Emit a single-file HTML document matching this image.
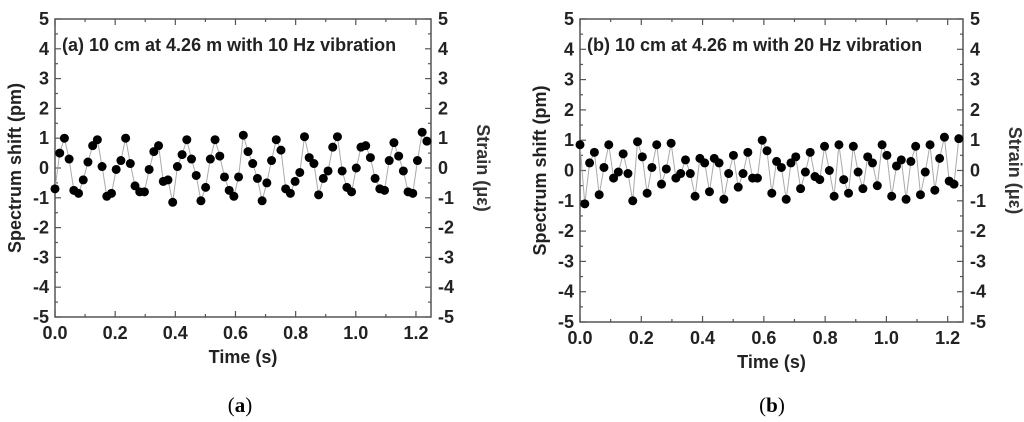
<!DOCTYPE html>
<html><head><meta charset="utf-8"><style>
body{margin:0;background:#fff;}
svg{display:block;font-family:"Liberation Sans",Arial,sans-serif;}
</style></head><body>
<svg id="c" width="1024" height="422" viewBox="0 0 1024 422">
<text x="240" y="412" font-family="Liberation Serif,serif" font-size="21" text-anchor="middle">(<tspan font-weight="bold">a</tspan>)</text>
<text x="772" y="412" font-family="Liberation Serif,serif" font-size="21" text-anchor="middle">(<tspan font-weight="bold">b</tspan>)</text>
</svg>
<script>
const sampleInterval = 0.01565;
const xTicks = [0.0, 0.2, 0.4, 0.6, 0.8, 1.0, 1.2];
const xTickLabels = ["0.0", "0.2", "0.4", "0.6", "0.8", "1.0", "1.2"];
const yTicks = [5, 4, 3, 2, 1, 0, -1, -2, -3, -4, -5];
const seriesA = [-0.7,0.5,1.0,0.3,-0.75,-0.85,-0.4,0.2,0.75,0.95,0.05,-0.95,-0.85,-0.05,0.25,1.0,0.15,-0.6,-0.8,-0.8,-0.05,0.55,0.75,-0.45,-0.4,-1.15,0.05,0.45,0.95,0.3,-0.25,-1.1,-0.65,0.3,0.95,0.4,-0.3,-0.75,-0.95,-0.3,1.1,0.55,0.15,-0.35,-1.1,-0.5,0.25,0.95,0.6,-0.7,-0.85,-0.45,-0.15,1.05,0.35,0.15,-0.9,-0.35,-0.1,0.7,1.05,-0.1,-0.65,-0.8,0.0,0.7,0.75,0.35,-0.35,-0.7,-0.75,0.25,0.85,0.4,-0.1,-0.8,-0.85,0.25,1.2,0.9];
const seriesB = [0.85,-1.1,0.25,0.6,-0.8,0.1,0.85,-0.25,-0.05,0.55,-0.1,-1.0,0.95,0.45,-0.75,0.1,0.85,-0.45,0.05,0.9,-0.25,-0.1,0.35,-0.1,-0.85,0.4,0.25,-0.7,0.4,0.25,-0.95,-0.1,0.5,-0.55,-0.1,0.6,-0.25,-0.25,1.0,0.65,-0.75,0.3,0.1,-0.95,0.25,0.45,-0.6,-0.05,0.6,-0.2,-0.3,0.8,0.0,-0.85,0.85,-0.3,-0.75,0.8,-0.05,-0.6,0.45,0.25,-0.5,0.85,0.5,-0.85,0.15,0.35,-0.95,0.3,0.8,-0.8,-0.05,0.85,-0.65,0.4,1.1,-0.35,-0.45,1.05];
const titles = ["(a) 10 cm at 4.26 m with 10 Hz vibration","(b) 10 cm at 4.26 m with 20 Hz vibration"];

const NS = "http://www.w3.org/2000/svg";
const svg = document.getElementById('c');
function mk(tag, attrs, parent, text){
  const e = document.createElementNS(NS, tag);
  for (const k in attrs) e.setAttribute(k, attrs[k]);
  if (text !== undefined) e.textContent = text;
  (parent || svg).appendChild(e);
  return e;
}
function drawPanel(key, L, R, T, B, data, title){
  const g = mk('g', {});
  
  
  const xs = t => L + (t / 1.25) * (R - L);
  const ys = v => T + (5 - v) / 10 * (B - T);
  for (let i = 0; i <= 25; i += 2) {
    const x = xs(i * 0.05), len = (i % 4 === 0) ? 6 : 3;
    mk('line', {x1:x, x2:x, y1:B, y2:B-len, stroke:'#555', 'stroke-width':1.2}, g);
    mk('line', {x1:x, x2:x, y1:T, y2:T+len, stroke:'#555', 'stroke-width':1.2}, g);
  }
  for (let i = 0; i <= 20; i++) {
    const y = ys(-5 + i * 0.5), len = i % 2 === 0 ? 6 : 3;
    mk('line', {x1:L, x2:L+len, y1:y, y2:y, stroke:'#555', 'stroke-width':1.2}, g);
    mk('line', {x1:R, x2:R-len, y1:y, y2:y, stroke:'#555', 'stroke-width':1.2}, g);
  }
  const frame = mk('rect', {x:L, y:T, width:R-L, height:B-T, fill:'none', stroke:'#555', 'stroke-width':1.5}, g);
  
  
  xTicks.forEach((t, i) => {
    const tl = mk('text', {x:xs(t), y:B+22, 'font-size':18, 'font-weight':'bold', 'text-anchor':'middle', fill:'#222'}, g, xTickLabels[i]);
    
    
  });
  yTicks.forEach(v => {
    const a = mk('text', {x:L-6, y:ys(v)+6, 'font-size':18, 'font-weight':'bold', 'text-anchor':'end', fill:'#222'}, g, String(v));
    
    
    const b = mk('text', {x:R+7, y:ys(v)+6, 'font-size':18, 'font-weight':'bold', 'text-anchor':'start', fill:'#222'}, g, String(v));
    
    
  });
  const xl = mk('text', {x:(L+R)/2, y:B+46, 'font-size':18, 'font-weight':'bold', 'text-anchor':'middle', fill:'#222'}, g, 'Time (s)');
  
  
  const yl = mk('text', {x:0, y:0, 'font-size':18, 'font-weight':'bold', 'text-anchor':'middle', fill:'#222', transform:`translate(${L-34},${(T+B)/2}) rotate(-90)`}, g, 'Spectrum shift (pm)');
  
  
  const yr = mk('text', {x:0, y:0, 'font-size':18, 'font-weight':'bold', 'text-anchor':'middle', fill:'#333', transform:`translate(${R+46},${(T+B)/2}) rotate(90)`}, g, 'Strain (με)');
  
  
  const tt = mk('text', {x:L+7, y:T+32, 'font-size':18, 'font-weight':'bold', fill:'#222'}, g, title);
  
  
  const pts = data.map((v, i) => xs(i * sampleInterval).toFixed(1) + ',' + ys(v).toFixed(1)).join(' ');
  const line = mk('polyline', {points:pts, fill:'none', stroke:'#aaa', 'stroke-width':1}, g);
  
  
  data.forEach((v, i) => {
    const c = mk('circle', {cx:xs(i * sampleInterval), cy:ys(v), r:4.5, fill:'#000'}, g);
    
    
  });
}
drawPanel('a', 55, 431, 19, 317, seriesA, titles[0]);
drawPanel('b', 580, 963, 19, 322, seriesB, titles[1]);
</script>
</body></html>
